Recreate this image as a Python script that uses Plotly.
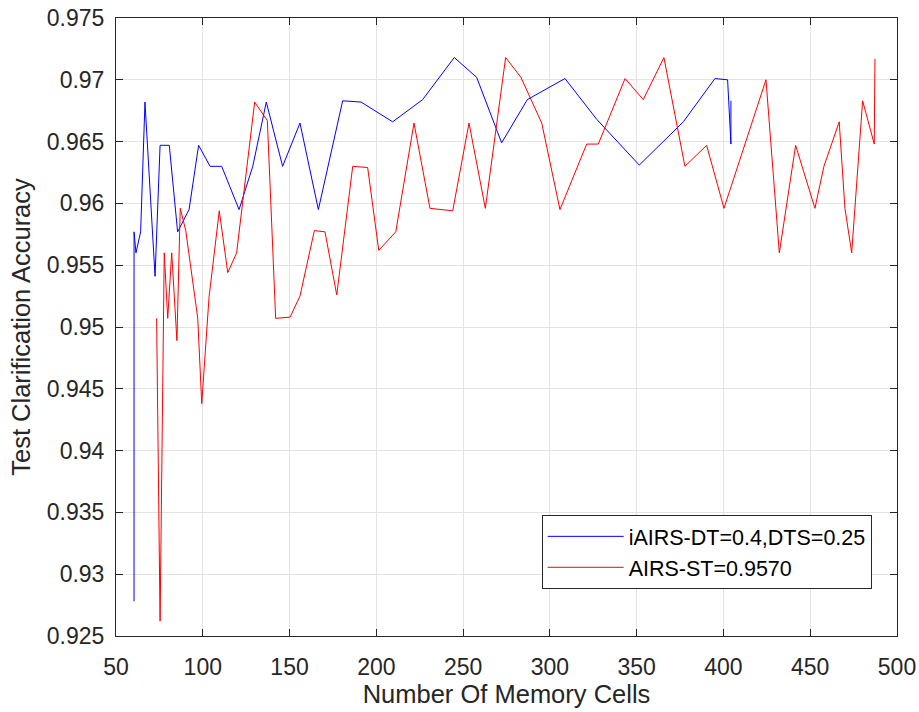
import plotly.graph_objects as go

# iAIRS-DT series
iairs_cells = [60.4, 60.4, 61.5, 64.2, 66.7, 72.5, 75.4, 80.7, 85.5, 92.1, 97.6, 104.2, 110.9,
               120.9, 128.8, 136.6, 146.0, 156.0, 166.6, 180.6, 191.2, 209.4, 226.7, 244.9,
               257.8, 272.2, 287.0, 308.7, 327.0, 351.5, 376.9, 395.1, 402.4, 404.3, 404.3]
iairs_acc = [0.9278, 0.9577, 0.9560, 0.9577, 0.9682, 0.9541, 0.9647, 0.9647, 0.9577, 0.9595,
             0.9647, 0.9630, 0.9630, 0.9595, 0.9630, 0.9682, 0.9630, 0.9665, 0.9595, 0.9683,
             0.9682, 0.9666, 0.9684, 0.9718, 0.9702, 0.9649, 0.9684, 0.9701, 0.9668, 0.9631,
             0.9666, 0.9701, 0.9700, 0.9648, 0.9683]

# AIRS-ST series
airs_cells = [73.4, 75.4, 77.8, 79.8, 82.1, 85.1, 87.0, 90.2, 97.1, 99.4, 103.6, 109.5, 114.4,
              119.5, 129.9, 137.2, 142.0, 150.3, 156.0, 164.3, 170.4, 177.2, 186.4, 195.0,
              201.4, 211.2, 221.7, 230.9, 244.0, 253.4, 262.8, 274.5, 283.3, 295.3, 305.8,
              321.2, 327.9, 343.3, 353.8, 365.7, 377.8, 390.3, 400.3, 424.5, 432.2, 441.6,
              452.7, 457.9, 466.7, 470.0, 473.9, 480.2, 486.9, 487.3]
airs_acc = [0.9507, 0.9262, 0.9560, 0.9507, 0.9560, 0.9489, 0.9596, 0.9578, 0.9507, 0.9438,
            0.9524, 0.9594, 0.9544, 0.9560, 0.9682, 0.9667, 0.9507, 0.9508, 0.9525, 0.9578,
            0.9577, 0.9526, 0.9630, 0.9629, 0.9562, 0.9577, 0.9665, 0.9596, 0.9594, 0.9665,
            0.9596, 0.9718, 0.9702, 0.9665, 0.9595, 0.9648, 0.9648, 0.9701, 0.9684, 0.9718,
            0.9630, 0.9647, 0.9596, 0.9700, 0.9560, 0.9647, 0.9596, 0.9630, 0.9666, 0.9596,
            0.9560, 0.9683, 0.9648, 0.9717]

x_ticks = [50, 100, 150, 200, 250, 300, 350, 400, 450, 500]
y_ticks = [0.925, 0.93, 0.935, 0.94, 0.945, 0.95, 0.955, 0.96, 0.965, 0.97, 0.975]
y_tick_labels = ["0.925", "0.93", "0.935", "0.94", "0.945", "0.95", "0.955", "0.96",
                 "0.965", "0.97", "0.975"]

FONT = "Liberation Sans, Arial, sans-serif"
AX = "#262626"

fig = go.Figure()
fig.add_trace(go.Scatter(x=iairs_cells, y=iairs_acc, mode="lines",
                         name="iAIRS-DT=0.4,DTS=0.25",
                         line=dict(color="#0000ff", width=1)))
fig.add_trace(go.Scatter(x=airs_cells, y=airs_acc, mode="lines",
                         name="AIRS-ST=0.9570",
                         line=dict(color="#ff0000", width=1)))

fig.update_layout(
    width=919, height=712,
    margin=dict(l=116, r=22, t=18, b=76, autoexpand=False),
    paper_bgcolor="white", plot_bgcolor="white",
    font=dict(family=FONT, color=AX, size=23),
    showlegend=True,
    legend=dict(x=0.545, y=0.196, xanchor="left", yanchor="top",
                bgcolor="white", bordercolor=AX, borderwidth=1,
                font=dict(family=FONT, size=21.5, color="black"),
                itemwidth=76, tracegroupgap=0),
    xaxis=dict(range=[50, 500], tickvals=x_ticks, ticks="inside", ticklen=7,
               tickcolor=AX, showline=True, linecolor=AX, linewidth=1, mirror="ticks",
               showgrid=True, gridcolor="#e3e3e3", gridwidth=1, zeroline=False,
               ticklabelstandoff=10, automargin=False,
               title=dict(text="Number Of Memory Cells", font=dict(size=25.5), standoff=6)),
    yaxis=dict(range=[0.925, 0.975], tickvals=y_ticks, ticktext=y_tick_labels,
               ticks="inside", ticklen=7,
               tickcolor=AX, showline=True, linecolor=AX, linewidth=1, mirror="ticks",
               showgrid=True, gridcolor="#e3e3e3", gridwidth=1, zeroline=False,
               ticklabelstandoff=6, automargin=False,
               title=dict(text="Test Clarification Accuracy", font=dict(size=25.5), standoff=8)),
)

fig.write_html("out.html")
